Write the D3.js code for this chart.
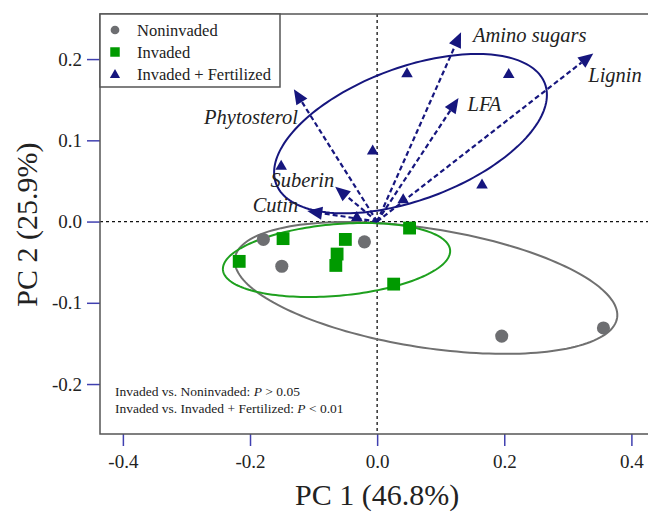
<!DOCTYPE html>
<html>
<head>
<meta charset="utf-8">
<script src="https://cdn.jsdelivr.net/npm/d3@7"></script>
<style>
  body { margin: 0; background: #fff; }
  text { font-family: "Liberation Serif", "Times New Roman", serif; }
</style>
</head>
<body>
<script>
// sample scores (PC1, PC2)
const noninvaded = [[-0.179, -0.022], [-0.150, -0.055], [-0.020, -0.025], [0.196, -0.141], [0.356, -0.131]]
const invaded = [[-0.148, -0.021], [-0.050, -0.022], [-0.063, -0.040], [-0.065, -0.054], [-0.217, -0.049], [0.051, -0.008], [0.026, -0.077]]
const fertilized = [[0.047, 0.183], [0.207, 0.182], [-0.007, 0.088], [-0.151, 0.069], [0.165, 0.046], [0.041, 0.028], [-0.032, 0.006]]

// variable loadings
const loadNames = ['Amino sugars', 'Lignin', 'LFA', 'Phytosterol', 'Suberin', 'Cutin']
const loadPC1 = [0.132, 0.340, 0.128, -0.131, -0.066, -0.110]
const loadPC2 = [0.233, 0.207, 0.152, 0.163, 0.043, 0.013]

// group ellipses: centre, semi-axis vectors (data units)
const ellNon = {c: [0.0769, -0.0817], u: [0.3006, -0.0369], v: [-0.0145, -0.0723]}
const ellInv = {c: [-0.0639, -0.0473], u: [0.1787, 0.0122], v: [0.0049, -0.0439]}
const ellFer = {c: [0.0525, 0.1082], u: [0.2115, 0.0615], v: [0.0363, -0.0764]}

const xTicks = [-0.4, -0.2, 0, 0.2, 0.4]
const yTicks = [-0.2, -0.1, 0, 0.1, 0.2]
const legendLabels = ['Noninvaded', 'Invaded', 'Invaded + Fertilized']

const grey = '#6d6e71', green = '#009a00', navy = '#16167e', tickBlue = '#4040b0'

const width = 648, height = 513
const plot = {left: 100, top: 14, right: 660, bottom: 434}

const svg = d3.select('body').append('svg')
  .attr('width', width)
  .attr('height', height)

const x = d3.scaleLinear().domain([-0.436, 0.445]).range([plot.left, plot.right])
const y = d3.scaleLinear().domain([-0.2615, 0.2555]).range([plot.bottom, plot.top])
const fmt = d => d3.format('.1f')(d).replace('\u2212', '-')

// axes
const xAxis = svg.append('g')
  .attr('transform', `translate(0,${plot.bottom})`)
  .call(d3.axisBottom(x).tickValues(xTicks).tickFormat(fmt).tickSize(12).tickPadding(9))
const yAxis = svg.append('g')
  .attr('transform', `translate(${plot.left},0)`)
  .call(d3.axisLeft(y).tickValues(yTicks).tickFormat(fmt).tickSize(13).tickPadding(5))
;[xAxis, yAxis].forEach(g => {
  g.select('.domain').remove()
  g.selectAll('line').attr('stroke', tickBlue).attr('stroke-width', 1.5)
  g.selectAll('text').attr('fill', '#222').style('font-size', '19px')
    .style('font-family', '"Liberation Serif", serif')
})

// zero lines
svg.append('line')
  .attr('x1', x(0)).attr('x2', x(0)).attr('y1', plot.top).attr('y2', plot.bottom)
  .attr('stroke', '#111').attr('stroke-width', 1.3).attr('stroke-dasharray', '3,3')
svg.append('line')
  .attr('x1', plot.left).attr('x2', plot.right).attr('y1', y(0)).attr('y2', y(0))
  .attr('stroke', '#111').attr('stroke-width', 1.3).attr('stroke-dasharray', '3,3')

// ellipses
const ellLine = d3.line().x(d => x(d[0])).y(d => y(d[1])).curve(d3.curveLinearClosed)
function ellipsePts(e) {
  return d3.range(0, 2 * Math.PI, Math.PI / 90).map(t => [
    e.c[0] + e.u[0] * Math.cos(t) + e.v[0] * Math.sin(t),
    e.c[1] + e.u[1] * Math.cos(t) + e.v[1] * Math.sin(t)
  ])
}
;[[ellNon, '#707070'], [ellInv, '#1ea01e'], [ellFer, navy]].forEach(([e, col]) => {
  svg.append('path')
    .attr('d', ellLine(ellipsePts(e)))
    .attr('fill', 'none')
    .attr('stroke', col)
    .attr('stroke-width', 2)
})

// loading arrows
const labelOffset = [[12, 10, 'start'], [-5, 29, 'start'], [9, 13, 'start'], [4, 35, 'end'], [-1, 0, 'end'], [-9, 1, 'end']]
const arrows = svg.append('g')
loadNames.forEach((name, i) => {
  const x0 = x(0), y0 = y(0)
  const x1 = x(loadPC1[i]), y1 = y(loadPC2[i])
  const len = Math.hypot(x1 - x0, y1 - y0)
  const ux = (x1 - x0) / len, uy = (y1 - y0) / len
  const hl = 15, hw = 6.5
  const bx = x1 - ux * hl, by = y1 - uy * hl
  arrows.append('line')
    .attr('x1', x0).attr('y1', y0).attr('x2', bx).attr('y2', by)
    .attr('stroke', navy).attr('stroke-width', 2.2).attr('stroke-dasharray', '5,3')
  arrows.append('path')
    .attr('d', `M${x1},${y1}L${bx - uy * hw},${by + ux * hw}L${bx + uy * hw},${by - ux * hw}Z`)
    .attr('fill', navy)
  const off = labelOffset[i]
  arrows.append('text')
    .attr('x', x1 + off[0]).attr('y', y1 + off[1])
    .attr('text-anchor', off[2])
    .style('font-size', '20.5px').style('font-style', 'italic')
    .attr('fill', '#222')
    .text(name)
})

// points
const sym = d3.symbol()
svg.append('g').selectAll('path')
  .data(noninvaded).join('path')
  .attr('transform', d => `translate(${x(d[0])},${y(d[1])})`)
  .attr('d', sym.type(d3.symbolCircle).size(135)())
  .attr('fill', grey)
svg.append('g').selectAll('path')
  .data(invaded).join('path')
  .attr('transform', d => `translate(${x(d[0])},${y(d[1])})`)
  .attr('d', sym.type(d3.symbolSquare).size(165)())
  .attr('fill', green)
svg.append('g').selectAll('path')
  .data(fertilized).join('path')
  .attr('transform', d => `translate(${x(d[0])},${y(d[1]) + 1})`)
  .attr('d', sym.type(d3.symbolTriangle).size(58)())
  .attr('fill', navy)

// frame
svg.append('rect')
  .attr('x', plot.left).attr('y', plot.top)
  .attr('width', plot.right - plot.left).attr('height', plot.bottom - plot.top)
  .attr('fill', 'none').attr('stroke', '#555').attr('stroke-width', 1.5)

// legend
const legend = svg.append('g')
legend.append('rect')
  .attr('x', plot.left).attr('y', plot.top).attr('width', 180).attr('height', 73)
  .attr('fill', '#fff').attr('stroke', '#555').attr('stroke-width', 1.5)
const legSyms = [[d3.symbolCircle, 60, grey], [d3.symbolSquare, 90, green], [d3.symbolTriangle, 45, navy]]
legendLabels.forEach((lab, i) => {
  const yy = 30 + i * 22
  legend.append('path')
    .attr('transform', `translate(115,${yy + (i === 2 ? 1 : 0)})`)
    .attr('d', d3.symbol().type(legSyms[i][0]).size(legSyms[i][1])())
    .attr('fill', legSyms[i][2])
  legend.append('text')
    .attr('x', 137).attr('y', yy + 5.5)
    .style('font-size', '16.5px').attr('fill', '#222')
    .text(lab)
})

// statistics note
const note = svg.append('g').style('font-size', '13.5px').attr('fill', '#222')
const n1 = note.append('text').attr('x', 115).attr('y', 396)
n1.append('tspan').text('Invaded vs. Noninvaded: ')
n1.append('tspan').style('font-style', 'italic').text('P')
n1.append('tspan').text(' > 0.05')
const n2 = note.append('text').attr('x', 115).attr('y', 413)
n2.append('tspan').text('Invaded vs. Invaded + Fertilized: ')
n2.append('tspan').style('font-style', 'italic').text('P')
n2.append('tspan').text(' < 0.01')

// axis titles
svg.append('text')
  .attr('x', x(0)).attr('y', 505)
  .attr('text-anchor', 'middle')
  .style('font-size', '30px').attr('fill', '#222')
  .text('PC 1 (46.8%)')
svg.append('text')
  .attr('transform', `translate(37,${y(0) + 3}) rotate(-90)`)
  .attr('text-anchor', 'middle')
  .style('font-size', '30px').attr('fill', '#222')
  .text('PC 2 (25.9%)')
</script>
</body>
</html>
